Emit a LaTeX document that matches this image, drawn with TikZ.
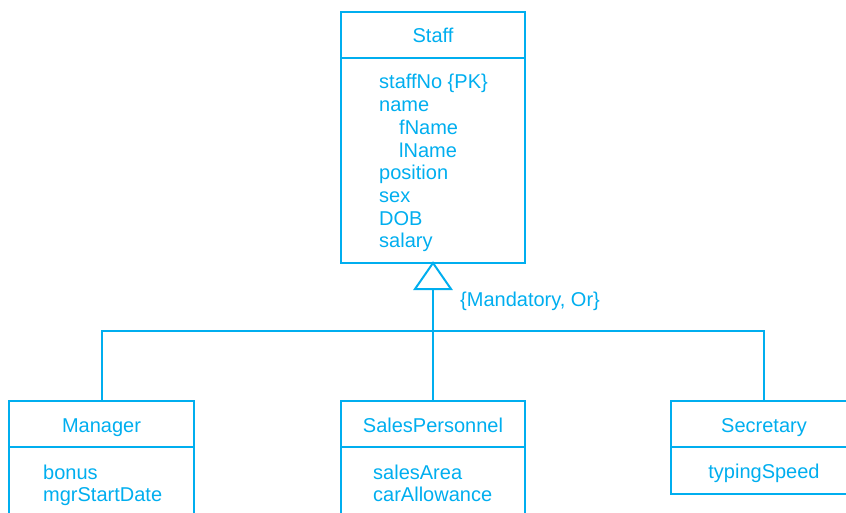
\documentclass[tikz,border=0pt]{standalone}
\usepackage{fontspec}
\setmainfont{Liberation Sans}
\definecolor{umlc}{RGB}{0,174,239}
\begin{document}
\begin{tikzpicture}[x=1pt,y=-1pt,
  box/.style={draw=umlc,line width=2pt,rectangle,inner sep=0pt,outer sep=0pt,anchor=north west},
  conn/.style={draw=umlc,line width=2pt},
  txt/.style={text=umlc,font=\fontsize{20}{22.7}\selectfont,inner sep=0pt}]
\useasboundingbox (0,0) rectangle (846,513);
\clip (0,0) rectangle (846,513);
% Staff
\node[box,minimum width=184pt,minimum height=251pt] (staff) at (341,12) {};
\draw[conn] (341,58) -- (525,58);
\node[txt,anchor=base] (stafft) at (433,43) {Staff};
\foreach \t/\dx [count=\i] in {{staffNo \{PK\}}/0,name/0,fName/20,lName/20,position/0,sex/0,DOB/0,salary/0}
  \node[txt,anchor=base west] (sa\i) at (379+\dx,89+22.7*\i-22.7) {\t};
% generalization triangle
\coordinate (apex) at (433,265);
\coordinate (tribase) at (433,289);
\draw[conn,line join=miter] (staff.south) -- (415,289) -- (451,289) -- cycle;
\node[txt,anchor=base west] (lbl) at (460,306) {\{Mandatory, Or\}};
\coordinate (bus) at (433,331);
% Manager
\node[box,minimum width=185pt,minimum height=140pt] (mgr) at (9,401) {};
\draw[conn] (9,447) -- (194,447);
\node[txt,anchor=base] (mgrt) at (101.5,432) {Manager};
\node[txt,anchor=base west] (ma1) at (43,479) {bonus};
\node[txt,anchor=base west] (ma2) at (43,501) {mgrStartDate};
% SalesPersonnel
\node[box,minimum width=184pt,minimum height=140pt] (sp) at (341,401) {};
\draw[conn] (341,447) -- (525,447);
\node[txt,anchor=base] (spt) at (433,432) {SalesPersonnel};
\node[txt,anchor=base west] (spa1) at (373,479) {salesArea};
\node[txt,anchor=base west] (spa2) at (373,501) {carAllowance};
% Secretary
\node[box,minimum width=186pt,minimum height=93pt] (sec) at (671,401) {};
\draw[conn] (671,447) -- (857,447);
\node[txt,anchor=base] (sect) at (764,432) {Secretary};
\node[txt,anchor=base] (seca1) at (764,478) {typingSpeed};
% connectors
\draw[conn] (tribase) -- (sp.north);
\draw[conn] (mgr.north) -- (mgr.north |- bus) -- (sec.north |- bus) -- (sec.north);
\end{tikzpicture}
\end{document}
